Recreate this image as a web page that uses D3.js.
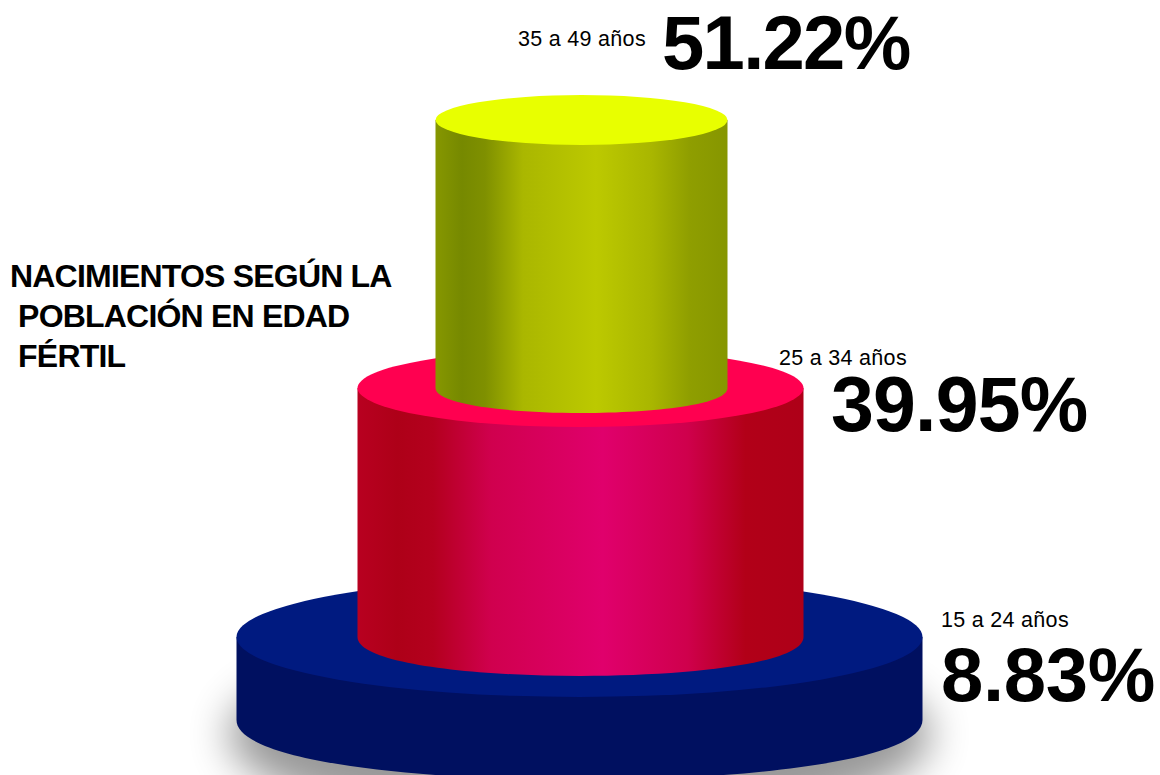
<!DOCTYPE html>
<html><head><meta charset="utf-8">
<script src="https://cdnjs.cloudflare.com/ajax/libs/d3/7.8.5/d3.min.js"></script>
<style>html,body{margin:0;padding:0;background:#fff;overflow:hidden}svg{display:block}text{font-family:"Liberation Sans",Arial,sans-serif;fill:#000}</style>
</head><body><svg id="c" width="1160" height="775"></svg>
<script>
const categories=["15 a 24 años","25 a 34 años","35 a 49 años"];
const values=[8.83,39.95,51.22];
const titleLines=["NACIMIENTOS SEGÚN LA"," POBLACIÓN EN EDAD"," FÉRTIL"];
const topColors=["#001a80","#ff0050","#e8ff00"];
const gradOffsets=[0,.09,.17,.3,.55,.74,.87,1];
const sideColors=[
 ["#001060","#001060","#001060","#001060","#001060","#001060","#001060","#001060"],
 ["#b80020","#ae0018","#b4001e","#d0004e","#e0006c","#cf004c","#b20018","#ae0018"],
 ["#869700","#768900","#7f9000","#aab700","#bcc900","#a9b600","#8f9e00","#869600"]];
const bigLabel=[{x:941,y:701,s:76,ls:-.3},{x:831,y:431,s:77,ls:-.8},{x:662,y:69,s:76,ls:-1.7}];
const smallLabel=[{x:941,y:627},{x:779,y:365},{x:518,y:46}];

const svg=d3.select("#c");
const sorted=[...values].sort(d3.ascending);
const rx=d3.scaleLinear().domain(sorted).range([343,223,146]);
const ry=d3.scaleLinear().domain(sorted).range([60,39,25]);
const h=d3.scaleLinear().domain(sorted).range([83,249,268]);
const cx=d3.scaleLinear().domain(sorted).range([579.5,580.5,581.5]);
let y=720;
const tiers=values.map((v,i)=>{const t={v,i,cx:cx(v),rx:rx(v),ry:ry(v),bottom:y,top:y-h(v)};y=t.top;return t;});

const defs=svg.append("defs");
const blur=defs.append("filter").attr("id","blur").attr("x","-20%").attr("y","-60%").attr("width","140%").attr("height","220%");
blur.append("feGaussianBlur").attr("stdDeviation",20);
tiers.forEach(t=>{
  const g=defs.append("linearGradient").attr("id","g"+t.i);
  gradOffsets.forEach((o,k)=>g.append("stop").attr("offset",o).attr("stop-color",sideColors[t.i][k]));
});
const side=t=>{const p=d3.path();p.moveTo(t.cx-t.rx,t.top);p.lineTo(t.cx-t.rx,t.bottom);
  p.bezierCurveTo(t.cx-t.rx,t.bottom+t.ry*1.333,t.cx+t.rx,t.bottom+t.ry*1.333,t.cx+t.rx,t.bottom);
  p.lineTo(t.cx+t.rx,t.top);p.closePath();return p.toString();};
const b=tiers[0];
svg.append("ellipse").attr("cx",b.cx).attr("cy",b.bottom+14).attr("rx",b.rx+8).attr("ry",b.ry+38).attr("fill","#000").attr("opacity",.4).attr("filter","url(#blur)");
const g=svg.selectAll("g.t").data(tiers).join("g").attr("class","t");
g.append("path").attr("d",side).attr("fill",d=>`url(#g${d.i})`);
g.append("ellipse").attr("cx",d=>d.cx).attr("cy",d=>d.top).attr("rx",d=>d.rx).attr("ry",d=>d.ry).attr("fill",d=>topColors[d.i]);

tiers.forEach((t,i)=>{
  svg.append("text").attr("x",smallLabel[i].x).attr("y",smallLabel[i].y).attr("font-size",21.5).attr("letter-spacing",.3).attr("fill","#111").text(categories[i]);
  svg.append("text").attr("x",bigLabel[i].x).attr("y",bigLabel[i].y).attr("font-size",bigLabel[i].s).attr("letter-spacing",bigLabel[i].ls).attr("font-weight","bold").text(d3.format(".2f")(t.v)+"%");
});
svg.append("g").selectAll("text").data(titleLines).join("text").attr("x",10).attr("y",(d,i)=>287+i*40)
 .attr("font-size",32).attr("font-weight","bold").attr("letter-spacing",-.8).style("white-space","pre").text(d=>d);
</script></body></html>
